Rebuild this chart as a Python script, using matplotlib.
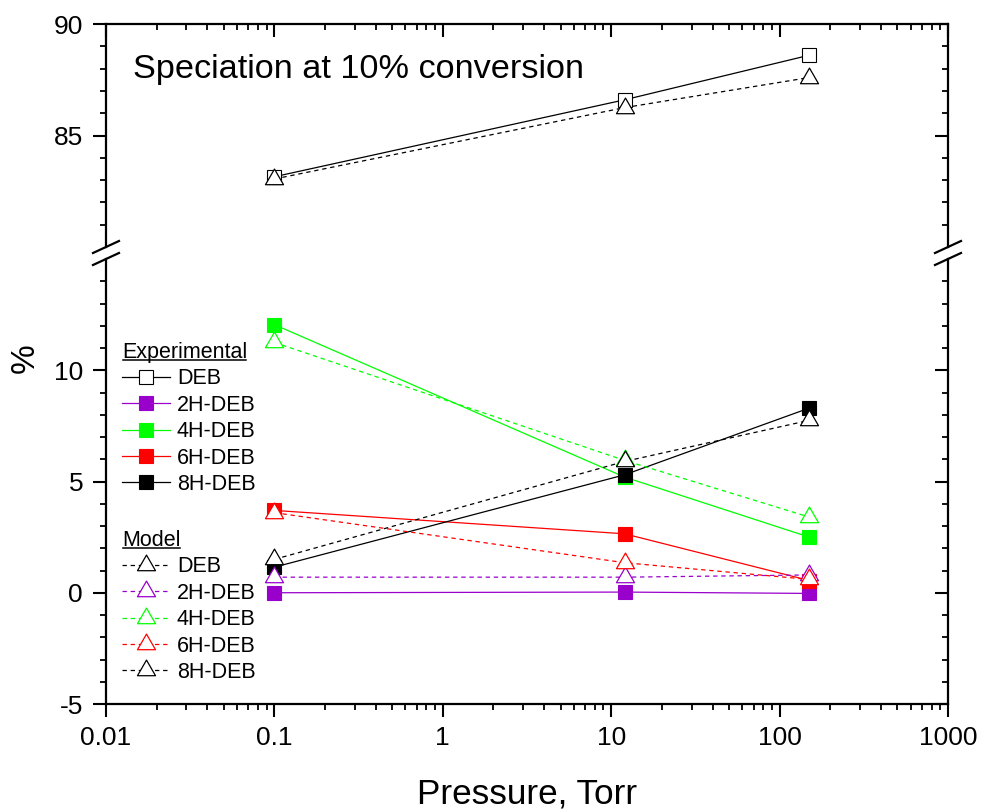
import matplotlib
matplotlib.use("Agg")
import matplotlib.pyplot as plt
from matplotlib.lines import Line2D
from matplotlib.path import Path
from matplotlib.ticker import FixedLocator, LogLocator, FuncFormatter, NullFormatter

plt.rcParams['font.family'] = ['Liberation Sans', 'DejaVu Sans']
plt.rcParams['axes.unicode_minus'] = False

# data
pressure = [0.1, 12, 150]
names = ["DEB", "2H-DEB", "4H-DEB", "6H-DEB", "8H-DEB"]
colors = ["black", "#9900cc", "#00ff00", "#ff0000", "black"]

exp_deb = [83.15, 86.6, 88.6]
exp_2h = [0.0, 0.03, -0.03]
exp_4h = [12.05, 5.2, 2.5]
exp_6h = [3.7, 2.65, 0.55]
exp_8h = [1.15, 5.3, 8.3]

mod_deb = [83.05, 86.25, 87.6]
mod_2h = [0.7, 0.7, 0.8]
mod_4h = [11.25, 5.95, 3.4]
mod_6h = [3.6, 1.35, 0.6]
mod_8h = [1.5, 5.9, 7.75]

W, H = 981, 809
fig = plt.figure(figsize=(W / 100, H / 100), dpi=100)

def fx(x):
    return x / W

def fy(y):
    return 1 - y / H

left, right = 106, 948
ax1 = fig.add_axes([fx(left), fy(247), fx(right) - fx(left), fy(24) - fy(247)])
ax2 = fig.add_axes([fx(left), fy(704), fx(right) - fx(left), fy(259) - fy(704)])

# triangle centred on its centroid
tri = Path([(0, 2), (-1.732, -1), (1.732, -1), (0, 2)],
           [Path.MOVETO, Path.LINETO, Path.LINETO, Path.CLOSEPOLY])

exp_vals = [exp_deb, exp_2h, exp_4h, exp_6h, exp_8h]
mod_vals = [mod_deb, mod_2h, mod_4h, mod_6h, mod_8h]

exp_handles = []
for i, (vals, c) in enumerate(zip(exp_vals, colors)):
    ax = ax1 if i == 0 else ax2
    face = "white" if i == 0 else c
    h, = ax.plot(pressure, vals, '-', color=c, lw=0.9, marker='s', ms=10,
                 mfc=face, mec=c, mew=0.8, clip_on=False)
    exp_handles.append(h)

mod_handles = []
for i, (vals, c) in enumerate(zip(mod_vals, colors)):
    ax = ax1 if i == 0 else ax2
    h, = ax.plot(pressure, vals, color=c, lw=0.9, dashes=(3.5, 3), marker=tri,
                 ms=15, mfc="white", mec=c, mew=0.9, clip_on=False)
    mod_handles.append(h)

for ax in (ax1, ax2):
    ax.set_xscale('log')
    ax.set_xlim(0.01, 1000)
    for s in ax.spines.values():
        s.set_linewidth(1.6)
    ax.xaxis.set_major_locator(LogLocator(base=10, numticks=10))
    ax.xaxis.set_minor_locator(LogLocator(base=10, subs=range(2, 10), numticks=20))
    ax.tick_params(which='major', length=9.5, width=1.5, labelsize=19)
    ax.tick_params(which='minor', length=4.5, width=1.3)
    ax.tick_params(axis='y', which='both', direction='out', left=True, right=False, pad=7)

ax1.set_ylim(80, 90)
ax1.yaxis.set_major_locator(FixedLocator([85, 90]))
ax1.yaxis.set_minor_locator(FixedLocator(range(81, 90)))
ax1.spines['bottom'].set_visible(False)
ax1.tick_params(axis='x', which='both', direction='in', top=True, bottom=False,
                labeltop=False, labelbottom=False)

ax2.set_ylim(-5, 15)
ax2.yaxis.set_major_locator(FixedLocator([-5, 0, 5, 10]))
ax2.yaxis.set_minor_locator(FixedLocator(range(-4, 15)))
ax2.spines['top'].set_visible(False)
ax2.tick_params(axis='x', which='both', direction='out', top=False, bottom=True, pad=6)
ax2.xaxis.set_major_formatter(FuncFormatter(lambda v, p: f"{v:g}"))
ax2.xaxis.set_minor_formatter(NullFormatter())

# inward ticks on the right side
for ax, major, minor in ((ax1, [85, 90], range(81, 90)),
                         (ax2, [-5, 0, 5, 10], range(-4, 15))):
    ax.spines['right'].set_visible(False)
    sec = ax.secondary_yaxis('right')
    sec.yaxis.set_major_locator(FixedLocator(major))
    sec.yaxis.set_minor_locator(FixedLocator(minor))
    sec.tick_params(which='both', direction='in', labelright=False, width=1.5)
    sec.tick_params(which='major', length=9.5)
    sec.tick_params(which='minor', length=4.5, width=1.3)
    sec.spines['right'].set_linewidth(1.6)

# axis break marks
for xs in (left, right):
    for yc in (247, 259):
        fig.add_artist(Line2D([fx(xs - 13), fx(xs + 13)], [fy(yc + 6), fy(yc - 6)],
                              color='black', lw=1.6))

fig.text(fx(133), fy(78), "Speciation at 10% conversion", fontsize=24.7, va='baseline')
fig.text(fx(25), fy(358), "%", fontsize=24, rotation=90, ha='center', va='center')
ax2.set_xlabel("Pressure, Torr", fontsize=25.3, labelpad=20)

leg_kw = dict(loc='upper left', bbox_transform=fig.transFigure, frameon=False,
              fontsize=15.5, title_fontsize=15.5, alignment='left', handlelength=2.25,
              handletextpad=0.3, labelspacing=0.25, borderpad=0, borderaxespad=0,
              numpoints=1)
leg1 = ax2.legend(exp_handles, names, title="Experimental",
                  bbox_to_anchor=(fx(122), fy(342)), **leg_kw)
ax2.add_artist(leg1)
leg2 = ax2.legend(mod_handles, names, title="Model",
                  bbox_to_anchor=(fx(122), fy(530)), **leg_kw)

# underline the legend titles
fig.canvas.draw()
inv = fig.transFigure.inverted()
for leg in (leg1, leg2):
    bb = leg.get_title().get_window_extent()
    (x0, y0), (x1, _) = inv.transform([(bb.x0 + 1, bb.y0 + 3), (bb.x1 - 1, bb.y0 + 3)])
    fig.add_artist(Line2D([x0, x1], [y0, y0], color='black', lw=1.1))

fig.savefig("out.png", dpi=100)
